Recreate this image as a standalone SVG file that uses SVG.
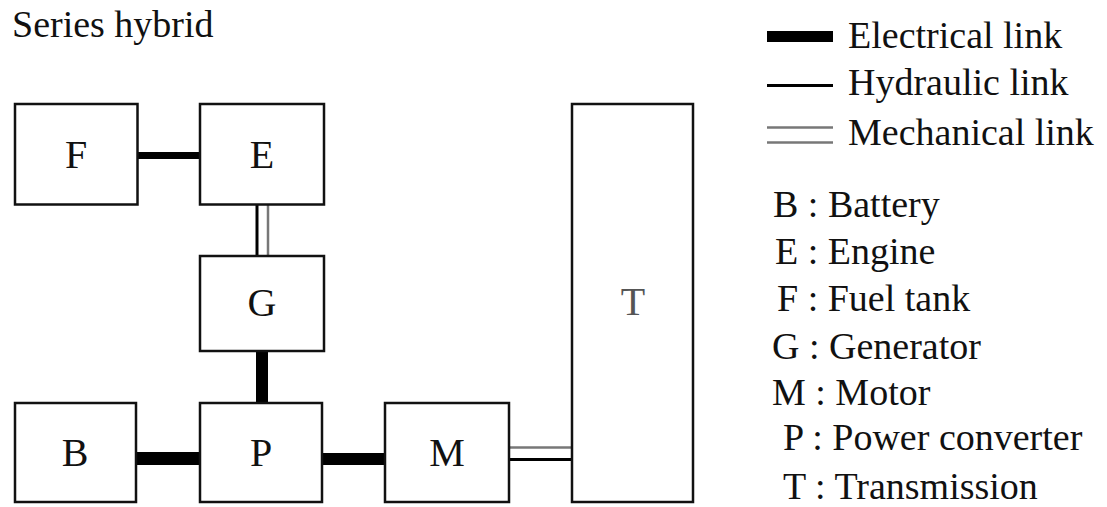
<svg xmlns="http://www.w3.org/2000/svg" width="1107" height="507" viewBox="0 0 1107 507">
<style>
text{font-family:"Liberation Serif","Times New Roman",serif;fill:#111;}
.lbl{font-size:40px;text-anchor:middle;}
.leg{font-size:38px;}
.box{fill:#fff;stroke:#111;stroke-width:2.5;}
.elec{stroke:#000;fill:none;}
.hyd{stroke:#000;stroke-width:3;fill:none;}
.mechA{stroke:#000;stroke-width:3;fill:none;}
.mechB{stroke:#777;stroke-width:2.5;fill:none;}
</style>
<rect width="1107" height="507" fill="#fff"/>
<text class="leg" x="12" y="37">Series hybrid</text>

<g id="connectors">
  <line class="elec" x1="138" y1="155.5" x2="200" y2="155.5" stroke-width="7"/>
  <line class="mechA" x1="257" y1="205" x2="257" y2="256"/>
  <line class="mechB" x1="268" y1="205" x2="268" y2="256"/>
  <line class="elec" x1="262" y1="351" x2="262" y2="403" stroke-width="12"/>
  <line class="elec" x1="136" y1="458.5" x2="200" y2="458.5" stroke-width="13"/>
  <line class="elec" x1="322" y1="459" x2="385" y2="459" stroke-width="12"/>
  <line class="mechB" x1="509" y1="447.5" x2="572" y2="447.5"/>
  <line class="mechA" x1="509" y1="459.5" x2="572" y2="459.5"/>
</g>

<g id="node-F"><rect class="box" x="15" y="104" width="122.5" height="100.5"/><text class="lbl" x="76" y="168">F</text></g>
<g id="node-E"><rect class="box" x="200" y="104" width="124" height="100.5"/><text class="lbl" x="262" y="168">E</text></g>
<g id="node-G"><rect class="box" x="200" y="256" width="124" height="95"/><text class="lbl" x="262" y="316">G</text></g>
<g id="node-B"><rect class="box" x="15" y="403" width="121" height="99"/><text class="lbl" x="75" y="466">B</text></g>
<g id="node-P"><rect class="box" x="200" y="403" width="122" height="99"/><text class="lbl" x="261" y="466">P</text></g>
<g id="node-M"><rect class="box" x="385" y="403" width="124" height="99"/><text class="lbl" x="447" y="466">M</text></g>
<g id="node-T"><rect class="box" x="572" y="104" width="121" height="398"/><text class="lbl" x="633" y="315" style="fill:#555">T</text></g>

<g id="legend">
  <line class="elec" x1="767" y1="36.5" x2="833" y2="36.5" stroke-width="11"/>
  <line class="hyd" x1="767" y1="85.5" x2="833" y2="85.5"/>
  <line class="mechB" x1="767" y1="127.5" x2="833" y2="127.5"/>
  <line class="mechB" x1="767" y1="142.5" x2="833" y2="142.5"/>
  <text class="leg" x="848" y="47.5">Electrical link</text>
  <text class="leg" x="848" y="95">Hydraulic link</text>
  <text class="leg" x="848" y="144.5">Mechanical link</text>
  <text class="leg" x="773" y="217">B : Battery</text>
  <text class="leg" x="775" y="264">E : Engine</text>
  <text class="leg" x="777" y="311">F : Fuel tank</text>
  <text class="leg" x="772" y="359">G : Generator</text>
  <text class="leg" x="772" y="405">M : Motor</text>
  <text class="leg" x="783" y="450">P : Power converter</text>
  <text class="leg" x="783" y="499">T : Transmission</text>
</g>
</svg>
